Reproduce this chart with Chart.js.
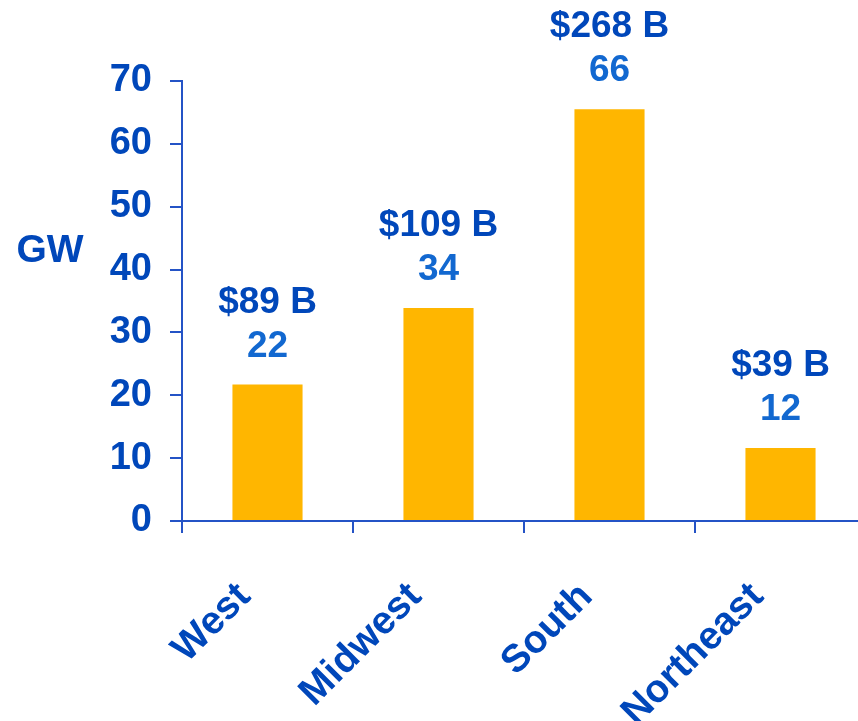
<!DOCTYPE html>
<html>
<head>
<meta charset="utf-8">
<script src="https://cdn.jsdelivr.net/npm/chart.js@4"></script>
<style>
  html, body { margin: 0; padding: 0; overflow: hidden; background: #fff; }
  #wrap { position: absolute; left: 0; top: 0; width: 870px; height: 721px; }
</style>
</head>
<body>
<div id="wrap"><canvas id="myChart"></canvas></div>
<script>
'use strict';

// chart values
const regions = ['West', 'Midwest', 'South', 'Northeast'];
const capacityGW = [21.7, 33.9, 65.5, 11.6];
const gwLabels = ['22', '34', '66', '12'];
const costLabels = ['$89 B', '$109 B', '$268 B', '$39 B'];
const yMin = 0;
const yMax = 70;
const yStep = 10;

const FONT = '"Liberation Sans", Arial, sans-serif';
const darkBlue = '#0047BA';
const lightBlue = '#1268D0';
const axisBlue = '#2453C6';
const barGold = '#FFB600';

// two line labels above every bar, plus the GW axis name
const barLabels = {
  id: 'barLabels',
  afterDatasetsDraw(chart) {
    const ctx = chart.ctx;
    const meta = chart.getDatasetMeta(0);
    ctx.save();
    ctx.textAlign = 'center';
    ctx.textBaseline = 'middle';
    ctx.font = 'bold 37px ' + FONT;
    meta.data.forEach(function(bar, i) {
      ctx.fillStyle = darkBlue;
      ctx.fillText(costLabels[i], bar.x, bar.y - 82);
      ctx.fillStyle = lightBlue;
      ctx.fillText(gwLabels[i], bar.x, bar.y - 38);
    });
    ctx.fillStyle = darkBlue;
    ctx.font = 'bold 39px ' + FONT;
    ctx.fillText('GW', 50, 251);
    ctx.restore();
  }
};

const ctx = document.getElementById('myChart').getContext('2d');

new Chart(ctx, {
  type: 'bar',
  data: {
    labels: regions.map(r => r + '   '),
    datasets: [{
      data: capacityGW,
      backgroundColor: barGold,
      borderWidth: 0,
      categoryPercentage: 1,
      barPercentage: 0.41
    }]
  },
  options: {
    responsive: true,
    maintainAspectRatio: false,
    animation: false,
    layout: { padding: { top: 81, right: 4, left: 0, bottom: 0 } },
    plugins: {
      legend: { display: false },
      tooltip: { enabled: false }
    },
    scales: {
      x: {
        afterFit: function(scale) { scale.height = 200; },
        border: { color: axisBlue, width: 2 },
        grid: {
          drawOnChartArea: false,
          color: axisBlue,
          lineWidth: 2,
          tickLength: 12
        },
        ticks: {
          autoSkip: false,
          minRotation: 45,
          maxRotation: 45,
          padding: 18,
          color: darkBlue,
          font: { family: FONT, size: 39, weight: 'bold' }
        }
      },
      y: {
        min: yMin,
        max: yMax,
        afterFit: function(scale) { scale.width = 182; },
        border: { color: axisBlue, width: 2 },
        grid: {
          drawOnChartArea: false,
          color: axisBlue,
          lineWidth: 2,
          tickLength: 12
        },
        ticks: {
          stepSize: yStep,
          padding: 18,
          color: darkBlue,
          font: { family: FONT, size: 38, weight: 'bold' }
        }
      }
    }
  },
  plugins: [barLabels]
});
</script>
</body>
</html>
